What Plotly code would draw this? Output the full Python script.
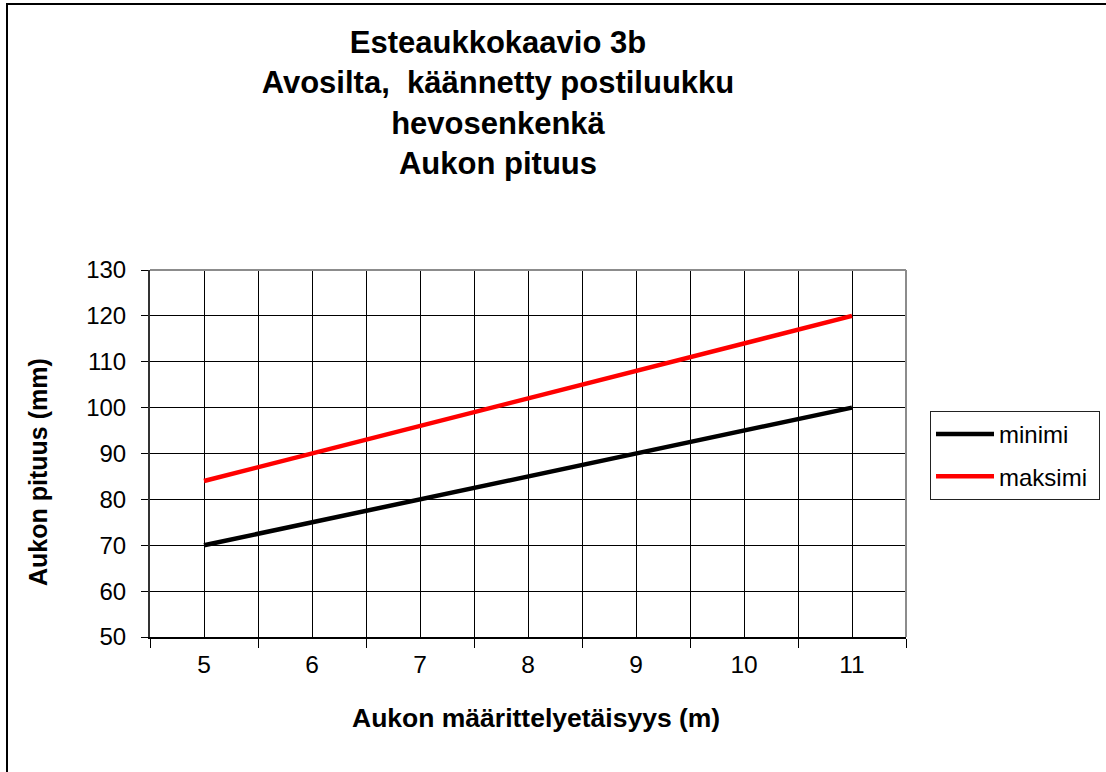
import plotly.graph_objects as go

# Category axis values and the two series
distance_m = [5, 6, 7, 8, 9, 10, 11]
distance_labels = ["5", "6", "7", "8", "9", "10", "11"]
minimi = [70, 75, 80, 85, 90, 95, 100]
maksimi = [84, 90, 96, 102, 108, 114, 120]
y_ticks = [50, 60, 70, 80, 90, 100, 110, 120, 130]

W, H = 1106, 772
L, R, T, B = 150, 906, 270, 637  # plot area in pixels

FONT = "Liberation Sans, Arial, sans-serif"


def px_x(x):
    return (x - L) / (R - L)


def px_y(y):
    return (B - y) / (B - T)


fig = go.Figure()
fig.add_trace(go.Scatter(
    x=distance_m, y=minimi, name="minimi&nbsp;", mode="lines",
    line=dict(color="black", width=4.5), legendgroup="a",
))
fig.add_trace(go.Scatter(
    x=distance_m, y=maksimi, name="maksimi&nbsp;", mode="lines",
    line=dict(color="#ff0000", width=4.5), legendgroup="b",
))

boundaries = [v - 0.5 for v in distance_m] + [distance_m[-1] + 0.5]

fig.update_xaxes(
    range=[boundaries[0], boundaries[-1]],
    tickmode="array", tickvals=distance_m, ticktext=distance_labels,
    ticks="", showgrid=True, gridcolor="black", gridwidth=1,
    minor=dict(tickmode="array", tickvals=boundaries, ticks="outside",
               ticklen=9, tickcolor="black", tickwidth=1,
               showgrid=True, gridcolor="black", gridwidth=1),
    showline=True, linecolor="black", linewidth=1.5,
    tickfont=dict(family=FONT, size=24.5, color="black"),
    ticklabelstandoff=5,
    zeroline=False, fixedrange=True,
)
fig.update_yaxes(
    range=[y_ticks[0], y_ticks[-1]],
    tickmode="array", tickvals=y_ticks,
    ticks="outside", ticklen=7, tickcolor="black", tickwidth=1,
    showgrid=True, gridcolor="black", gridwidth=1,
    showline=True, linecolor="#333333", linewidth=2,
    tickfont=dict(family=FONT, size=24, color="black"),
    ticklabelstandoff=10,
    zeroline=False, fixedrange=True,
)

shapes = [
    # grey plot-area border on top and right
    dict(type="line", xref="paper", yref="paper", x0=0, x1=1, y0=1, y1=1,
         line=dict(color="#8c8c8c", width=2), layer="above"),
    dict(type="line", xref="paper", yref="paper", x0=1, x1=1, y0=0, y1=1,
         line=dict(color="#8c8c8c", width=2), layer="above"),
    # outer chart frame
    dict(type="line", xref="paper", yref="paper",
         x0=px_x(6), x1=px_x(W + 20), y0=px_y(4), y1=px_y(4),
         line=dict(color="black", width=2)),
    dict(type="line", xref="paper", yref="paper",
         x0=px_x(7), x1=px_x(7), y0=px_y(3), y1=px_y(H + 20),
         line=dict(color="black", width=2)),
]

annotations = [
    dict(text="<b>Aukon määrittelyetäisyys (m)</b>", xref="paper", yref="paper",
         x=px_x(536), y=px_y(718), showarrow=False, xanchor="center", yanchor="middle",
         font=dict(family=FONT, size=26.5, color="black")),
    dict(text="<b>Aukon pituus (mm)</b>", xref="paper", yref="paper",
         x=px_x(38), y=px_y(472), showarrow=False, textangle=-90,
         xanchor="center", yanchor="middle",
         font=dict(family=FONT, size=25, color="black")),
]

fig.update_layout(
    width=W, height=H,
    margin=dict(l=L, r=W - R, t=T, b=H - B, autoexpand=False),
    paper_bgcolor="white", plot_bgcolor="white",
    title=dict(
        text="<b>Esteaukkokaavio 3b<br>Avosilta,  käännetty postiluukku<br>hevosenkenkä<br>Aukon pituus</b>",
        x=498 / W, xanchor="center", xref="container",
        y=1 - 53 / H, yanchor="top", yref="container",
        font=dict(family=FONT, size=31, color="black"),
    ),
    legend=dict(
        x=px_x(930), y=px_y(411), xanchor="left", yanchor="top",
        bordercolor="#222222", borderwidth=1, bgcolor="white",
        font=dict(family=FONT, size=24, color="black"),
        itemwidth=58, tracegroupgap=8,
    ),
    shapes=shapes, annotations=annotations,
    showlegend=True,
)

fig.write_html("out.html")
